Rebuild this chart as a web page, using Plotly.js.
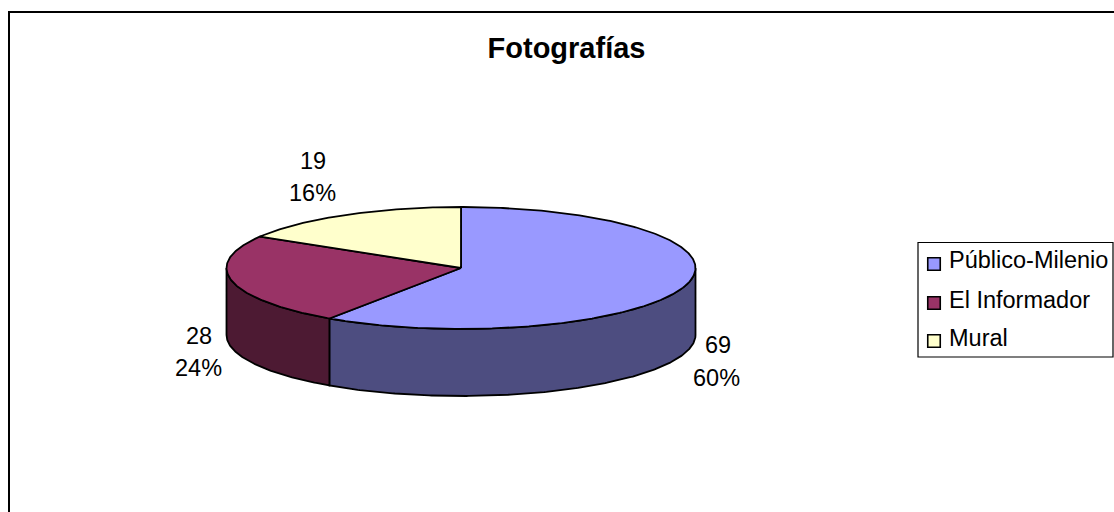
<!DOCTYPE html>
<html><head><meta charset="utf-8">
<script src="https://cdn.plot.ly/plotly-3.0.1.min.js"></script>
<style>html,body{margin:0;padding:0;background:#fff}#c{width:1114px;height:512px}</style>
</head><body><div id="c"></div>
<script>
const categories = ["Público-Milenio", "El Informador", "Mural"];
const values = [69, 28, 19];
const percentLabels = ["60%", "24%", "16%"];
const topColors = ["#9999FF", "#993366", "#FFFFCC"];
const sideColors = ["#4D4D80", "#4D1A33", "#80804D"];
const valueLabelPos = [[717.5, 345], [199, 336], [313, 161]];
const percentLabelPos = [[716.5, 378], [198, 368], [312, 193]];
const legendTextRows = [260, 300, 338];
const legendMarkerRows = [264, 303, 341];

const cx = 461, cy = 268, rx = 234.5, ry = 61, depth = 67;
const total = values.reduce((a, b) => a + b, 0);
const ex = t => cx + rx * Math.sin(t);
const ey = t => cy - ry * Math.cos(t);
const arc = (a, b) => {
  const n = Math.max(2, Math.ceil(Math.abs(b - a) / 0.01)), pts = [];
  for (let i = 0; i <= n; i++) pts.push(a + (b - a) * i / n);
  return pts;
};
const line = {color: "#000", width: 1.8};
const traces = [];
let start = 0;
const slices = values.map(v => { const s = [start, start + v / total * 2 * Math.PI]; start = s[1]; return s; });

// side walls: visible front half of the rim
slices.forEach((s, i) => {
  const a = Math.max(s[0], Math.PI / 2), b = Math.min(s[1], 3 * Math.PI / 2);
  if (b <= a) return;
  const t = arc(a, b), r = t.slice().reverse();
  traces.push({type: "scatter", mode: "lines", fill: "toself", fillcolor: sideColors[i], line,
    x: t.map(ex).concat(r.map(ex), [ex(a)]),
    y: t.map(ey).concat(r.map(q => ey(q) + depth), [ey(a)]),
    hoverinfo: "skip", showlegend: false});
});
// top faces
slices.forEach((s, i) => {
  const t = arc(s[0], s[1]);
  traces.push({type: "scatter", mode: "lines", fill: "toself", fillcolor: topColors[i], line,
    x: [cx].concat(t.map(ex), [cx]),
    y: [cy].concat(t.map(ey), [cy]),
    name: categories[i], text: categories[i], hoverinfo: "text", showlegend: false});
});
// legend swatches
traces.push({type: "scatter", mode: "markers", x: categories.map(() => 934), y: legendMarkerRows,
  marker: {symbol: "square", size: 12.5, color: topColors, line: {color: "#000", width: 1.6}},
  text: categories, hoverinfo: "text", showlegend: false});

const font = {family: "Liberation Sans, Arial, sans-serif", color: "#000", size: 23.5};
const annotations = [];
categories.forEach((c, i) => {
  annotations.push({x: 947, y: legendTextRows[i], xref: "x", yref: "y", text: c, showarrow: false, xanchor: "left", yanchor: "middle", font});
  annotations.push({x: valueLabelPos[i][0], y: valueLabelPos[i][1], xref: "x", yref: "y",
    text: String(values[i]), showarrow: false, xanchor: "center", yanchor: "middle", font});
  annotations.push({x: percentLabelPos[i][0], y: percentLabelPos[i][1], xref: "x", yref: "y",
    text: percentLabels[i], showarrow: false, xanchor: "center", yanchor: "middle", font});
});

const layout = {
  width: 1114, height: 512, margin: {l: 0, r: 0, t: 0, b: 0},
  paper_bgcolor: "#fff", plot_bgcolor: "#fff", showlegend: false,
  title: {text: "Fotografías", x: 566.5 / 1114, xanchor: "center", y: 1 - 48 / 512, yanchor: "middle",
    font: {family: font.family, size: 29, color: "#000", weight: "bold"}},
  xaxis: {range: [0, 1114], visible: false, fixedrange: true},
  yaxis: {range: [512, 0], visible: false, fixedrange: true},
  annotations,
  shapes: [
    {type: "path", xref: "x", yref: "y", path: "M 9 512 L 9 12 L 1114 12", line: {color: "#000", width: 2}},
    {type: "rect", xref: "x", yref: "y", x0: 918, x1: 1113, y0: 242.5, y1: 357, line: {color: "#000", width: 1.2}, fillcolor: "#fff", layer: "below"}
  ]
};
Plotly.newPlot("c", traces, layout, {displayModeBar: false});
</script></body></html>
